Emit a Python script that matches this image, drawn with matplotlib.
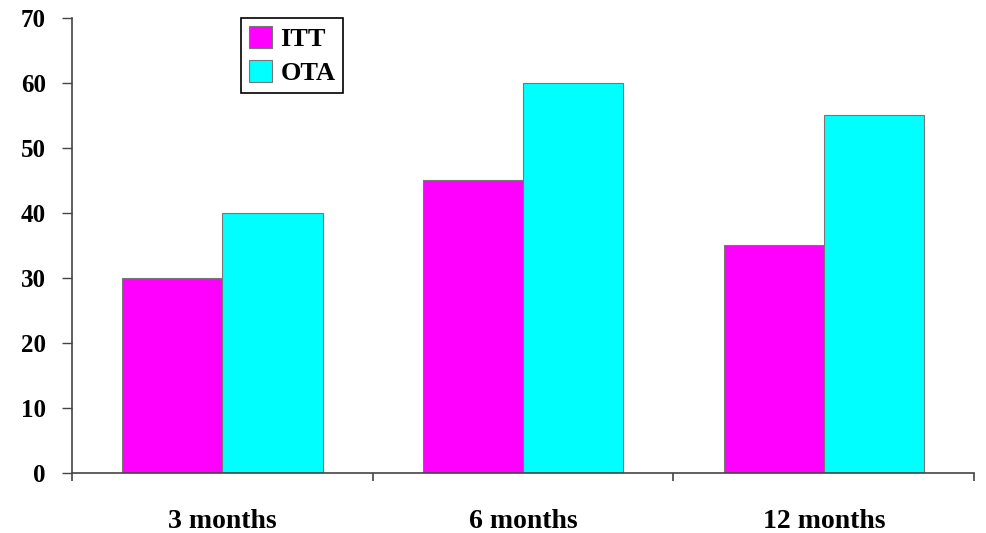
import numpy as np
import matplotlib.pyplot as plt

categories = ['3 months', '6 months', '12 months']
itt = [30, 45, 35]
ota = [40, 60, 55]

plt.rcParams['font.family'] = 'Liberation Serif'
plt.rcParams['font.weight'] = 'bold'

fig = plt.figure(figsize=(9.87, 5.33), dpi=100)
ax = fig.add_axes([0.073, 0.1126, 0.914, 0.854])

x = np.arange(len(categories))
w = 1 / 3
ax.bar(x - w / 2, itt, w, color='#ff00ff', edgecolor='#777777', linewidth=0.8, label='ITT')
ax.bar(x + w / 2, ota, w, color='#00ffff', edgecolor='#777777', linewidth=0.8, label='OTA')

ax.set_xlim(-0.5, 2.5)
ax.set_ylim(0, 70)
ax.set_yticks(range(0, 71, 10))

# labels centred under groups, ticks on the group boundaries
ax.set_xticks(x)
ax.set_xticklabels(categories, fontsize=20, fontweight='bold')
ax.set_xticks([-0.5, 0.5, 1.5, 2.5], minor=True)
ax.tick_params(axis='x', which='major', length=0, pad=26)
ax.tick_params(axis='x', which='minor', length=6, width=1.2, color='#444444', direction='out')
ax.tick_params(axis='y', length=7, width=1, color='#444444', pad=12, labelsize=18)

for s in ['top', 'right']:
    ax.spines[s].set_visible(False)
for s in ['left', 'bottom']:
    ax.spines[s].set_color('#444444')
    ax.spines[s].set_linewidth(1.2)

leg = ax.legend(loc='upper left', bbox_to_anchor=(0.187, 1.0), fontsize=19,
                fancybox=False, framealpha=1, edgecolor='black', borderaxespad=0,
                handlelength=0.9, handleheight=0.9, handletextpad=0.3,
                borderpad=0.3, labelspacing=0.35)
leg.get_frame().set_linewidth(1.2)

fig.savefig('out.png', dpi=100)
